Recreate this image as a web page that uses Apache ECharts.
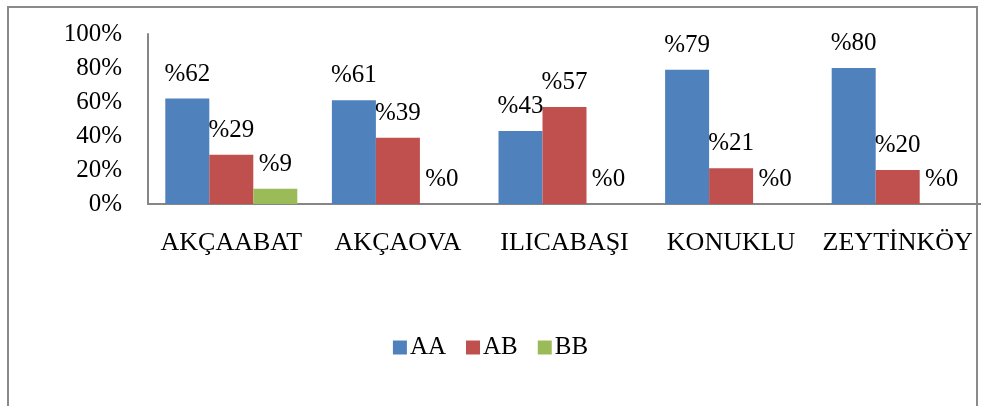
<!DOCTYPE html>
<html>
<head>
<meta charset="utf-8">
<script src="https://cdn.jsdelivr.net/npm/echarts@6/dist/echarts.min.js"></script>
<style>
  html, body { margin: 0; padding: 0; background: #fff; }
  #chart { width: 981px; height: 406px; }
</style>
</head>
<body>
<div id="chart"></div>
<script>
// Villages and genotype shares (%)
const categories = ['AKÇAABAT', 'AKÇAOVA', 'ILICABAŞI', 'KONUKLU', 'ZEYTİNKÖY'];
const seriesNames = ['AA', 'AB', 'BB'];
const valuesAA = [62, 61, 43, 79, 80];
const valuesAB = [29, 39, 57, 21, 20];
const valuesBB = [9, 0, 0, 0, 0];
const yTicks = [0, 20, 40, 60, 80, 100];

const colors = ['#4F81BD', '#C0504D', '#9BBB59'];
const FONT = '"Liberation Serif", "Times New Roman", serif';

const chart = echarts.init(document.getElementById('chart'), null, { renderer: 'canvas' });

function barSeries(name, data, color) {
  return {
    name: name,
    type: 'bar',
    data: data,
    barWidth: 44,
    barGap: '0%',
    itemStyle: { color: color },
    label: {
      show: true,
      position: 'top',
      distance: 12,
      formatter: p => '%' + p.value,
      fontFamily: FONT,
      fontSize: 25,
      color: '#000'
    }
  };
}

chart.setOption({
  animation: false,
  backgroundColor: '#fff',
  graphic: [{
    type: 'rect',
    shape: { x: 8, y: 7, width: 969, height: 420 },
    style: { fill: 'none', stroke: '#8a8a8a', lineWidth: 2 },
    silent: true,
    z: -1
  }],
  grid: { left: 148, right: 0, top: 34, bottom: 202 },
  legend: {
    data: seriesNames,
    top: 330,
    left: 'center',
    icon: 'rect',
    itemWidth: 14,
    itemHeight: 14,
    itemGap: 20,
    textStyle: { fontFamily: FONT, fontSize: 25, color: '#000', padding: [0, 0, 0, -2] }
  },
  xAxis: {
    type: 'category',
    data: categories,
    axisLine: { lineStyle: { color: '#868686', width: 2 } },
    axisTick: { show: false },
    axisLabel: { fontFamily: FONT, fontSize: 26, color: '#000', margin: 26, interval: 0 }
  },
  yAxis: {
    type: 'value',
    min: yTicks[0],
    max: yTicks[yTicks.length - 1],
    interval: 20,
    axisLine: { show: true, lineStyle: { color: '#868686', width: 2 } },
    axisTick: { show: false },
    splitLine: { show: false },
    axisLabel: {
      fontFamily: FONT, fontSize: 25, color: '#000', margin: 26,
      formatter: v => v + '%'
    }
  },
  series: [
    barSeries(seriesNames[0], valuesAA, colors[0]),
    barSeries(seriesNames[1], valuesAB, colors[1]),
    barSeries(seriesNames[2], valuesBB, colors[2])
  ]
});
</script>
</body>
</html>
